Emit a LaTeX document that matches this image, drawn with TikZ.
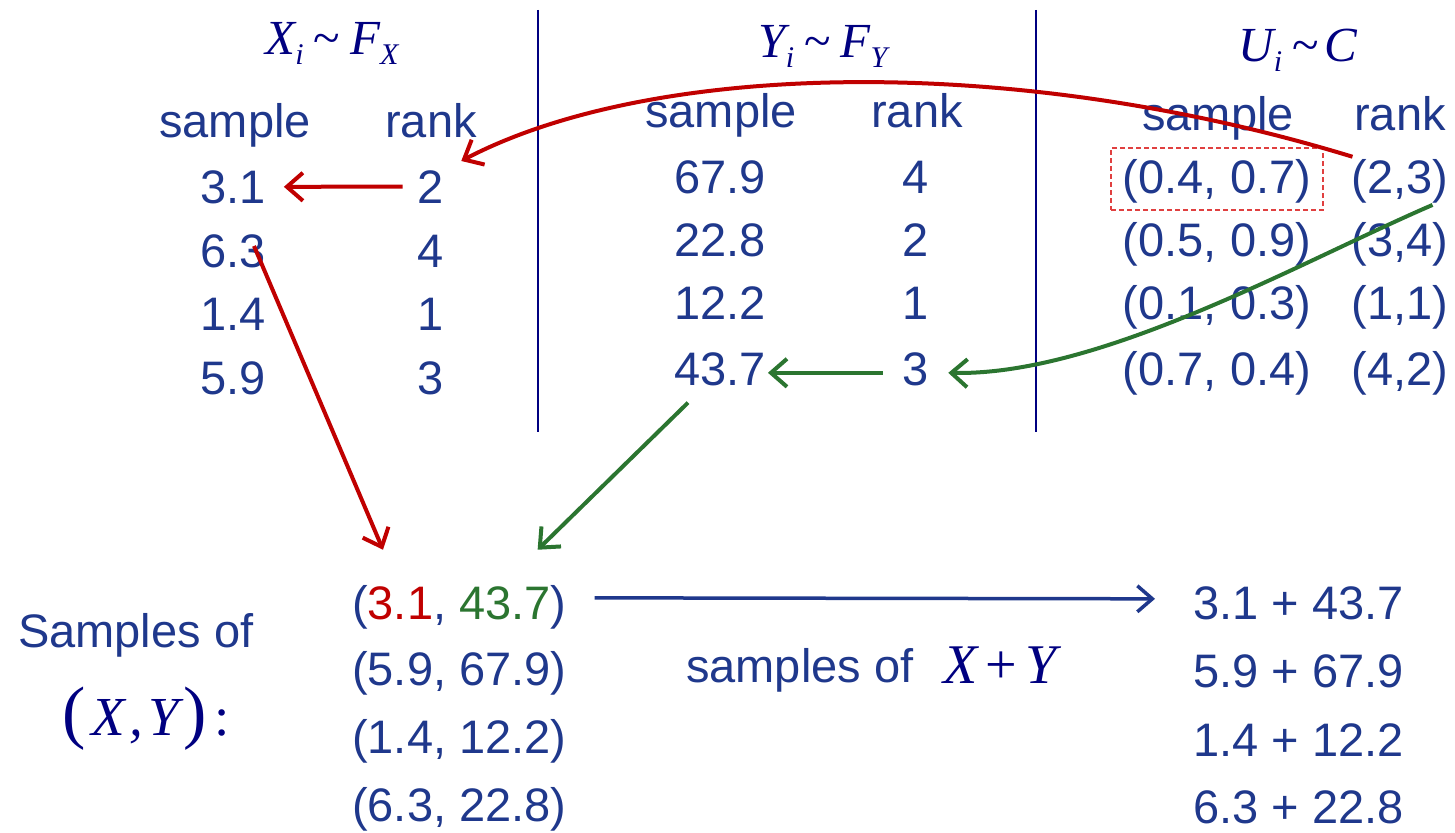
\documentclass[tikz,border=0pt]{standalone}
\usepackage{fontspec}
\setmainfont{Liberation Sans}
\newfontfamily\tms{Liberation Serif}
\usetikzlibrary{arrows.meta,calc}
\definecolor{tb}{HTML}{1F388C}
\definecolor{nv}{HTML}{000080}
\definecolor{rd}{HTML}{C00000}
\definecolor{gr}{HTML}{2B7530}
\definecolor{dr}{HTML}{E04040}
\newcommand\isub[1]{\raisebox{-10pt}{\fontsize{30}{30}\selectfont #1}}
\newcommand\tld{{\upshape\char"7E}}
\begin{document}
\begin{tikzpicture}[x=1pt,y=-1pt,
  txt/.style={font=\fontsize{47}{47}\selectfont, text=tb, inner sep=0pt, anchor=base},
  mth/.style={font=\fontsize{49}{49}\selectfont\tms\itshape, text=nv, inner sep=0pt, anchor=base},
  rarr/.style={draw=rd, line width=4pt, -{Straight Barb[length=16pt,width=28pt,line width=4pt]}},
  garr/.style={draw=gr, line width=4pt, -{Straight Barb[length=16pt,width=28pt,line width=4pt]}},
  barr/.style={draw=tb, line width=3.5pt, -{Straight Barb[length=15pt,width=26pt,line width=3.5pt]}},
  sep/.style={draw=nv, line width=1.3pt}]
\useasboundingbox (0,0) rectangle (1455,832);

% separators
\coordinate (l1t) at (538,10); \coordinate (l1b) at (538,432);
\coordinate (l2t) at (1036,10); \coordinate (l2b) at (1036,432);
\draw[sep] (l1t) -- (l1b);
\draw[sep] (l2t) -- (l2b);

% headers
\node[mth] (hx) at (332,55) {X\isub{i}\kern10pt\tld\kern10pt F\isub{X}};
\node[mth] (hy) at (823,58) {Y\isub{i}\kern10pt\tld\kern10pt F\isub{Y}};
\node[mth] (hu) at (1298,62) {U\isub{i}\kern10pt\tld\kern6pt C};

\node[txt] (xs) at (235,138) {sample};
\node[txt] (xr) at (431,138) {rank};
\node[txt] (ys) at (721,128) {sample};
\node[txt] (yr) at (917,128) {rank};
\node[txt] (us) at (1218,130) {sample};
\node[txt] (ur) at (1400,130) {rank};

% X table
\node[txt] (x1) at (233,203) {3.1};
\node[txt] (x2) at (233,267) {6.3};
\node[txt] (x3) at (233,330) {1.4};
\node[txt] (x4) at (233,394) {5.9};
\node[txt] (xr1) at (431,203) {2};
\node[txt] (xr2) at (431,267) {4};
\node[txt] (xr3) at (431,330) {1};
\node[txt] (xr4) at (431,394) {3};

% Y table
\node[txt] (y1) at (720,193) {67.9};
\node[txt] (y2) at (720,256) {22.8};
\node[txt] (y3) at (720,319) {12.2};
\node[txt] (y4) at (720,385) {43.7};
\node[txt] (yr1) at (916,193) {4};
\node[txt] (yr2) at (916,256) {2};
\node[txt] (yr3) at (916,319) {1};
\node[txt] (yr4) at (916,385) {3};

% U table
\node[txt] (u1) at (1217,193) {(0.4, 0.7)};
\node[txt] (u2) at (1217,256) {(0.5, 0.9)};
\node[txt] (u3) at (1217,319) {(0.1, 0.3)};
\node[txt] (u4) at (1217,385) {(0.7, 0.4)};
\node[txt] (ur1) at (1400,193) {(2,3)};
\node[txt] (ur2) at (1400,256) {(3,4)};
\node[txt] (ur3) at (1400,319) {(1,1)};
\node[txt] (ur4) at (1400,385) {(4,2)};

\node[draw=dr, line width=1.3pt, dash pattern=on 5pt off 3pt, inner sep=0pt,
      minimum width=212pt, minimum height=62pt] (box) at (1217,179) {};

% bottom
\node[txt, anchor=base west] (sa) at (18,647) {Samples of};
\node[mth, font=\fontsize{55}{55}\selectfont\tms\itshape, anchor=base west] (sxy) at (62,735)
  {{\fontsize{70}{70}\selectfont\upshape(}\kern6pt X\kern4pt,\kern6pt Y\kern4pt{\fontsize{70}{70}\selectfont\upshape)}\kern8pt{\upshape:}};

\node[txt, anchor=base west] (b1) at (352,619) {(\textcolor{rd}{3.1}, \textcolor{gr}{43.7})};
\node[txt, anchor=base west] (b2) at (352,685) {(5.9, 67.9)};
\node[txt, anchor=base west] (b3) at (352,753) {(1.4, 12.2)};
\node[txt, anchor=base west] (b4) at (352,821) {(6.3, 22.8)};

\node[txt, anchor=base west] (sm) at (686,682) {samples of};
\node[mth, font=\fontsize{56}{56}\selectfont\tms\itshape, anchor=base west] (smx) at (943,683) {X\kern8pt{\upshape+}\kern8pt Y};

\node[txt, anchor=base west] (s1) at (1193,619) {3.1 + 43.7};
\node[txt, anchor=base west] (s2) at (1193,687) {5.9 + 67.9};
\node[txt, anchor=base west] (s3) at (1193,756) {1.4 + 12.2};
\node[txt, anchor=base west] (s4) at (1193,823) {6.3 + 22.8};

% connectors
\draw[rarr] ($(ur1.north west)+(1,-2)$) .. controls (1010,52) and (650,62) .. ($(xr1.north east)+(17,-9)$);
\draw[rarr] ($(xr1.west)+(-15,0)$) -- ($(x1.east)+(18,0)$);
\draw[rarr] ($(x2.north)+(21,12)$) -- ($(b1.north west)+(31,-35)$);

\draw[garr] ($(ur1.south east)+(-16,2)$) .. controls (1300,262) and (1100,376) .. ($(yr4.east)+(19,4)$);
\draw[garr] ($(yr4.west)+(-20,4)$) -- ($(y4.east)+(2,4)$);
\draw[garr] ($(y4.south)+(-32,17)$) -- ($(b1.north east)+(-29,-35)$);

\draw[barr] ($(b1.east)+(28,-9)$) -- ($(s1.west)+(-38,-4)$);
\end{tikzpicture}
\end{document}
